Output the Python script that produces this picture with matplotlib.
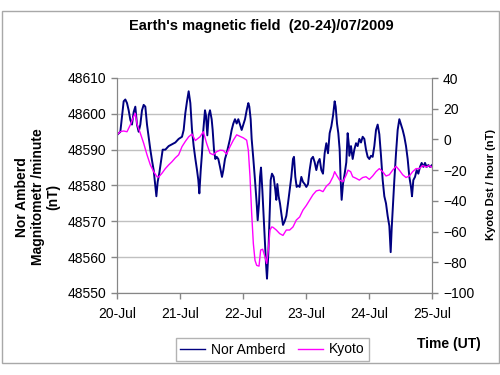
import matplotlib
matplotlib.use("Agg")
import matplotlib.pyplot as plt
from matplotlib.patches import Rectangle

plt.rcParams['font.family'] = ['Liberation Sans', 'DejaVu Sans']

# Hours since 20-Jul 00:00 UT
nor_hours = [0, 1.27, 2.54, 3.17, 3.81, 4.44, 5.08, 5.71, 6.35, 6.98, 7.62, 8.25, 8.89, 9.52,
             10.16, 10.79, 11.43, 12.06, 12.70, 13.33, 13.97, 14.60, 15.0, 15.49, 16.13, 16.89,
             17.40, 18.41, 19.68, 20.95, 22.22, 23.49, 24.76, 25.40, 26.03, 26.67, 27.30, 27.94,
             28.57, 29.21, 29.84, 30.48,
             30.98, 31.37, 31.87, 32.38, 32.89, 33.52, 33.90, 34.41, 34.92, 35.43, 36.06, 36.44,
             36.95, 37.46, 37.97, 38.60, 39.24, 40.0, 40.51, 41.14, 41.78, 42.41, 43.05, 43.68,
             44.32, 44.95, 45.59, 46.22, 46.86, 47.49, 48.13, 48.76, 49.40, 50.03, 50.41, 50.92,
             51.30, 51.94, 52.57, 53.21, 53.59, 54.10, 54.48, 54.86, 55.37, 55.75, 56.25, 56.76,
             57.14, 57.65, 58.29,
             58.54, 59.04, 59.68, 60.31, 60.69, 61.08, 61.58, 62.09, 62.60, 63.23, 63.87, 64.50,
             65.14, 65.77, 66.41, 67.04, 67.42, 67.93, 68.44, 68.95, 69.58, 70.22, 70.85, 71.49,
             72.12, 72.76, 73.39, 74.03, 74.66, 75.30, 75.93, 76.57, 77.20, 77.84, 78.47, 79.11,
             79.74, 80.38, 81.01, 81.65, 82.28, 82.92, 83.30, 83.81, 84.31, 84.82, 85.20, 85.58,
             86.09, 86.73, 87.36, 87.87, 88.38,
             88.51, 89.14, 89.78, 90.41, 91.05, 91.68, 92.32, 92.95, 93.59, 94.22, 94.86, 95.49,
             96.13, 96.76, 97.40, 98.03, 98.67, 99.30, 99.94, 100.57, 101.21, 101.84, 102.48,
             103.11, 103.75, 104.26, 104.64, 105.02, 105.65, 106.29, 106.92, 107.56, 108.19,
             108.83, 109.46, 110.10, 110.73, 111.37, 112.0, 112.38, 112.89, 113.53, 114.16,
             114.79, 115.43, 116.06, 116.70, 117.33, 117.97, 118.60, 119.24, 120.0]
nor_values = [48594.1, 48595, 48603.5, 48604, 48603, 48601, 48598.3, 48597, 48600.5, 48602, 48597,
              48595, 48597, 48601, 48602.5, 48602, 48597, 48593.6, 48590, 48587, 48584.3, 48580,
              48577, 48581, 48583.5, 48587.5, 48590, 48590, 48591, 48591.5, 48592, 48593, 48593.6,
              48595.5, 48600.2, 48603.5, 48606.3, 48603, 48595.5, 48591, 48587.5, 48584.3,
              48581.5, 48577.8, 48584, 48589, 48595.5, 48601, 48599.5, 48594, 48599.5, 48601,
              48598.5, 48595.5, 48590, 48587.4, 48588, 48587.4, 48585.2, 48582.4, 48584.3, 48587.4,
              48589, 48591, 48593, 48595.5, 48597.3, 48598.5, 48597.3, 48598.5, 48597, 48595.5,
              48597, 48598.5, 48601, 48603, 48602, 48598.5, 48593, 48587.4, 48581.5, 48575,
              48570.3, 48575, 48582.4, 48585, 48578.7, 48573, 48565.6, 48558.2, 48554, 48561,
              48575,
              48581.5, 48583.3, 48582.4, 48578.7, 48576, 48580.4, 48577, 48575, 48572.2, 48569,
              48570, 48571.5, 48575, 48578.7, 48582.4, 48587.4, 48588, 48582.4, 48579.6, 48580,
              48579.6, 48582.4, 48581, 48580.4, 48579.6, 48580.4, 48584.3, 48587.4, 48588, 48586.5,
              48584.3, 48586.5, 48587.4, 48584.3, 48583.3, 48589, 48591.8, 48589, 48594.6, 48596.5,
              48599.4, 48603.5, 48602, 48597.3, 48594.6, 48590, 48581.5, 48576, 48580.4, 48583.3,
              48586.5, 48594.6, 48591,
              48588.3, 48591, 48587.4, 48590, 48591.8, 48591, 48593, 48592, 48593.6, 48593, 48590,
              48588, 48587.4, 48588.3, 48588, 48591, 48595.5, 48597, 48594.3, 48588.3, 48581.5,
              48577, 48575, 48571.5, 48568.7, 48561.4, 48568, 48573, 48581.5, 48589, 48595.5,
              48598.5, 48597, 48595.5, 48593.6, 48591, 48587.4, 48582.4, 48579.6, 48577, 48581.5,
              48582.4, 48584.3, 48583.3, 48585.2, 48586.3, 48585.2, 48586.3, 48585.2, 48585.7,
              48585.2, 48585.7]

kyoto_hours = [0, 1.27, 2.54, 3.81, 5.08, 6.35, 6.98, 7.62, 8.89, 10.16, 11.43, 12.70, 13.97,
               15.24, 15.87, 17.14, 18.41, 19.68, 20.95, 22.22, 23.49, 24.76, 26.03, 27.30, 28.57,
               29.84, 31.62, 32.89, 34.16, 35.43, 36.70, 37.97, 39.24, 40.51, 41.78, 43.05, 44.32,
               45.59, 46.86, 48.13, 49.40, 50.03, 50.67, 51.30, 51.94, 52.57, 53.21, 54.10, 54.73,
               55.49, 56.38, 57.02, 57.65, 58.29, 58.92, 59.42, 60.69, 61.96, 63.23, 64.50, 65.77,
               67.04, 68.31, 69.58, 70.85, 72.12, 73.39, 74.66, 75.93, 77.20, 78.47, 79.74, 81.01,
               82.28, 82.92, 83.55, 84.82, 86.09, 87.36, 88.0, 89.01, 89.78, 91.05, 92.32, 93.59,
               94.86, 96.13, 97.40, 98.67, 99.94, 101.21, 102.48, 103.75, 105.02, 106.29, 107.56,
               108.83, 110.10, 111.37, 112.64, 113.91, 115.18, 116.44, 117.71, 118.98, 120.0]
kyoto_values = [3, 5.1, 5.5, 5, 9.5, 15, 17, 10, 4, -2.5, -10, -16.6, -21, -24.3, -24.5, -22, -19,
                -16.6, -14.5, -12, -10, -4.7, -1.3, 1.7, 3.5, -0.7, 1.7, 5, -2.7, -9, -10, -8, -7,
                -7.2, -9.5, -4.7, -0.5, 3, 2, 1, -0.5, -7, -24.3, -48, -67.8, -78.7, -82, -82.5,
                -72, -71.5, -76.5, -80.8, -72, -59, -57, -57.2, -59, -61.3, -62.5, -59, -59, -57,
                -52.5, -50.5, -46, -43, -39.5, -36, -33.5, -33, -34, -30.5, -28.5, -24.3, -21, -23,
                -26.5, -27.5, -23, -20, -21, -24.3, -25.3, -26.5, -24.8, -24.3, -26, -23.8, -21,
                -19, -21, -23.8, -23, -20, -17.5, -20, -23, -24.8, -23.8, -21, -19, -19, -17, -18,
                -17, -18.2]

x_tick_hours = [0, 24, 48, 72, 96, 120]
x_tick_labels = ['20-Jul', '21-Jul', '22-Jul', '23-Jul', '24-Jul', '25-Jul']
left_ticks = [48550, 48560, 48570, 48580, 48590, 48600, 48610]
right_ticks = [-100, -80, -60, -40, -20, 0, 20, 40]

W, H = 500, 375
fig = plt.figure(figsize=(5, 3.75), dpi=100)
ax = fig.add_axes([117 / W, 1 - 293 / H, (432 - 117) / W, (293 - 78) / H])
ax2 = ax.twinx()

spine_c = '#868686'
grid_c = '#c0c0c0'

l1, = ax.plot(nor_hours, nor_values, color='#000080', lw=1.4, label='Nor Amberd')
l2, = ax2.plot(kyoto_hours, kyoto_values, color='#ff00ff', lw=1.0, label='Kyoto')

ax.set_xlim(0, 120)
ax.set_ylim(48550, 48610)
ax2.set_ylim(-100, 40)
ax.set_xticks(x_tick_hours)
ax.set_xticklabels(x_tick_labels)
ax.set_yticks(left_ticks)
ax2.set_yticks(right_ticks)

ax.grid(axis='y', color=grid_c, lw=1.0)
ax.set_axisbelow(True)

for a in (ax, ax2):
    a.tick_params(labelsize=10, length=4, width=1, color=spine_c, direction='out', pad=4)
    for s in ('left', 'right', 'bottom'):
        a.spines[s].set_color(spine_c)
    a.spines['top'].set_visible(False)
ax.tick_params(axis='x', pad=6)

fig.text(0.522, 0.931, "Earth's magnetic field  (20-24)/07/2009", ha='center', va='center',
         fontsize=10.5, fontweight='bold')
fig.text(0.076, 0.475, "Nor Amberd\nMagnitometr /minute\n(nT)", ha='center', va='center',
         rotation=90, fontsize=10, fontweight='bold', linespacing=1.15)
fig.text(0.982, 0.507, "Kyoto Dst / hour (nT)", ha='center', va='center', rotation=90,
         fontsize=8, fontweight='bold')
fig.text(0.898, 0.083, "Time (UT)", ha='center', va='center', fontsize=10, fontweight='bold')

leg = fig.legend([l1, l2], ['Nor Amberd', 'Kyoto'], loc='center', bbox_to_anchor=(0.545, 0.068),
                 ncol=2, fontsize=10, frameon=True, fancybox=False, edgecolor='#a0a0a0',
                 handlelength=1.8, handletextpad=0.45, columnspacing=0.9, borderpad=0.3)
leg.get_frame().set_linewidth(1.0)
leg.get_lines()[0].set_linewidth(1.0)

fig.patches.append(Rectangle((2 / W, 1 - 363 / H), 497 / W, (363 - 11) / H,
                             transform=fig.transFigure, fill=False, edgecolor='#a8a8a8', lw=1.0))

fig.savefig('out.png', dpi=100)
